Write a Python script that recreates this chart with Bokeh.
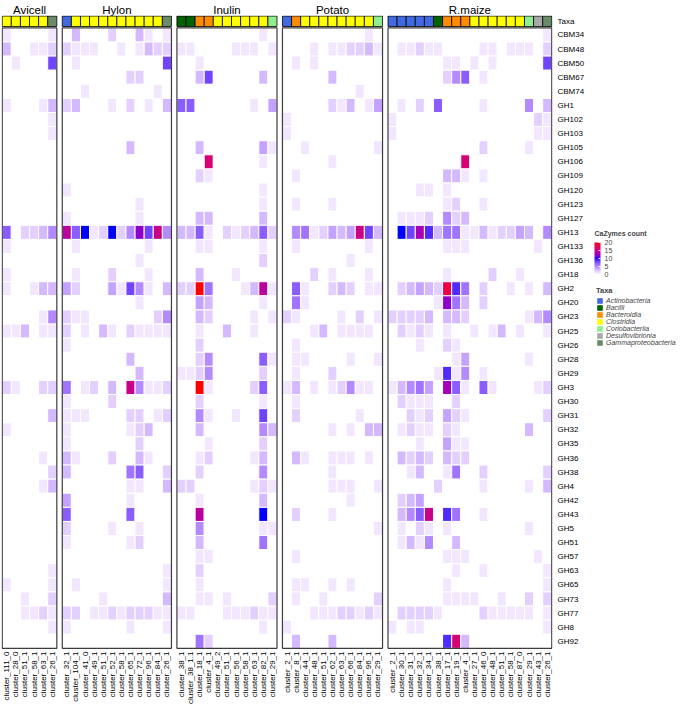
import math
import numpy as np
from bokeh.plotting import figure
from bokeh.layouts import row
from bokeh.models import (Range1d, ColumnDataSource, LinearColorMapper, ColorBar, LinearAxis,
                          FixedTicker, Legend, LegendItem, Label, AllLabels)
from bokeh.transform import factor_cmap
from bokeh.embed import file_html
from bokeh.resources import INLINE

# ---------------- data ----------------
rows = ["CBM34", "CBM48", "CBM50", "CBM67", "CBM74", "GH1", "GH102", "GH103", "GH105",
        "GH106", "GH109", "GH120", "GH123", "GH127", "GH13", "GH133", "GH136", "GH18",
        "GH2", "GH20", "GH23", "GH25", "GH26", "GH28", "GH29", "GH3", "GH30", "GH31",
        "GH32", "GH35", "GH36", "GH38", "GH4", "GH42", "GH43", "GH5", "GH51", "GH57",
        "GH63", "GH65", "GH73", "GH77", "GH8", "GH92"]

panels = ["Avicell", "Hylon", "Inulin", "Potato", "R.maize"]

avicell_clusters = ["cluster_111_0", "cluster_28_0", "cluster_51_1", "cluster_58_1",
                    "cluster_63_1", "cluster_26_1"]
avicell_taxa = ["Clostridia"] * 5 + ["Gammaproteobacteria"]

hylon_clusters = ["cluster_32_1", "cluster_104_1", "cluster_41_0", "cluster_49_1",
                  "cluster_51_1", "cluster_52_1", "cluster_58_1", "cluster_65_1",
                  "cluster_72_1", "cluster_96_1", "cluster_84_1", "cluster_26_1"]
hylon_taxa = ["Actinobacteria"] + ["Clostridia"] * 10 + ["Gammaproteobacteria"]

inulin_clusters = ["cluster_38_1", "cluster_38_1.1", "cluster_18_1", "cluster_4_1",
                   "cluster_49_2", "cluster_51_1", "cluster_56_1", "cluster_58_1",
                   "cluster_63_1", "cluster_82_1", "cluster_29_1"]
inulin_taxa = ["Bacilli"] * 2 + ["Bacteroidia"] * 2 + ["Clostridia"] * 6 + ["Coriobacteriia"]

potato_clusters = ["cluster_2_1", "cluster_8_1", "cluster_44_1", "cluster_48_1",
                   "cluster_51_1", "cluster_62_1", "cluster_63_1", "cluster_66_1",
                   "cluster_84_1", "cluster_96_1", "cluster_29_1"]
potato_taxa = ["Actinobacteria", "Bacteroidia"] + ["Clostridia"] * 8 + ["Coriobacteriia"]

rmaize_clusters = ["cluster_2_1", "cluster_30_1", "cluster_31_1", "cluster_32_1",
                   "cluster_34_1", "cluster_38_1", "cluster_17_1", "cluster_19_1",
                   "cluster_4_1", "cluster_27_1", "cluster_46_0", "cluster_48_1",
                   "cluster_51_1", "cluster_58_1", "cluster_87_0", "cluster_29_1",
                   "cluster_43_1", "cluster_26_1"]
rmaize_taxa = (["Actinobacteria"] * 5 + ["Bacilli"] + ["Bacteroidia"] * 3 + ["Clostridia"] * 6
               + ["Coriobacteriia", "Desulfovibrionia", "Gammaproteobacteria"])

taxa_order = ["Actinobacteria", "Bacilli", "Bacteroidia", "Clostridia", "Coriobacteriia",
              "Desulfovibrionia", "Gammaproteobacteria"]

# CaZyme counts, one list per row (order of `rows`), one value per cluster
avicell_counts = [
    [1, 0, 0, 0, 0, 1], [3, 0, 0, 1, 1, 2], [0, 1, 0, 0, 0, 8], [0, 0, 0, 0, 0, 0],
    [0, 0, 0, 0, 0, 0], [1, 0, 0, 0, 1, 3], [0, 0, 0, 0, 0, 1], [0, 0, 0, 0, 0, 1],
    [0, 0, 0, 0, 0, 0], [0, 0, 0, 0, 0, 0], [0, 0, 0, 0, 0, 0], [0, 0, 0, 0, 0, 0],
    [0, 0, 0, 0, 0, 0], [0, 0, 0, 0, 0, 0], [7, 0, 2, 2, 3, 5], [1, 0, 0, 0, 0, 0],
    [0, 0, 0, 0, 0, 0], [1, 0, 0, 0, 0, 0], [1, 0, 0, 1, 3, 3], [0, 0, 0, 0, 0, 0],
    [0, 0, 0, 0, 1, 5], [1, 1, 3, 0, 1, 1], [0, 0, 0, 0, 0, 0], [0, 0, 0, 0, 0, 0],
    [0, 0, 0, 0, 0, 0], [2, 1, 0, 0, 2, 2], [0, 0, 0, 0, 0, 0], [0, 0, 0, 0, 0, 3],
    [1, 0, 0, 0, 0, 0], [0, 0, 0, 0, 0, 0], [0, 0, 0, 0, 1, 0], [0, 0, 0, 0, 0, 2],
    [0, 0, 0, 0, 1, 3], [0, 0, 0, 0, 0, 0], [0, 0, 0, 0, 0, 0], [0, 0, 0, 0, 0, 0],
    [0, 0, 0, 0, 0, 0], [0, 0, 0, 0, 0, 0], [0, 0, 0, 0, 0, 1], [1, 0, 0, 0, 0, 1],
    [0, 0, 1, 0, 0, 2], [0, 0, 1, 1, 2, 1], [0, 0, 0, 0, 0, 1], [0, 0, 0, 0, 0, 0],
]

hylon_counts = [
    [0, 3, 0, 0, 0, 2, 0, 0, 3, 1, 0, 1],
    [2, 1, 1, 1, 0, 0, 1, 0, 1, 3, 2, 2],
    [0, 1, 0, 0, 0, 0, 0, 0, 0, 0, 0, 8],
    [0, 0, 0, 0, 0, 0, 0, 2, 2, 0, 0, 0],
    [0, 0, 1, 0, 0, 0, 0, 0, 0, 0, 1, 0],
    [2, 3, 0, 0, 0, 1, 0, 2, 0, 1, 0, 3],
    [0, 0, 0, 0, 0, 0, 0, 0, 0, 0, 0, 0],
    [0, 0, 0, 0, 0, 0, 0, 0, 0, 0, 0, 0],
    [0, 0, 0, 0, 0, 0, 0, 3, 0, 0, 0, 0],
    [0, 0, 0, 0, 0, 0, 0, 0, 0, 0, 0, 0],
    [0, 0, 0, 0, 0, 0, 0, 0, 0, 0, 0, 0],
    [1, 0, 0, 0, 0, 0, 0, 0, 0, 0, 0, 0],
    [0, 0, 0, 0, 0, 0, 0, 0, 1, 0, 0, 0],
    [1, 0, 0, 0, 0, 0, 0, 0, 1, 0, 0, 0],
    [14, 7, 10, 1, 2, 10, 2, 5, 12, 8, 15, 5],
    [0, 1, 0, 0, 0, 0, 0, 0, 0, 1, 0, 0],
    [0, 0, 0, 0, 0, 0, 0, 0, 1, 0, 0, 0],
    [0, 1, 0, 0, 0, 2, 0, 0, 0, 1, 0, 0],
    [4, 2, 0, 0, 0, 4, 1, 8, 5, 1, 0, 3],
    [0, 0, 0, 0, 0, 0, 0, 0, 1, 0, 0, 0],
    [2, 1, 1, 0, 0, 0, 0, 0, 0, 0, 2, 5],
    [2, 0, 1, 0, 3, 1, 0, 2, 1, 1, 1, 1],
    [1, 0, 0, 0, 0, 0, 0, 0, 0, 0, 0, 0],
    [0, 0, 0, 0, 0, 0, 0, 3, 0, 0, 0, 0],
    [0, 0, 0, 0, 0, 0, 0, 0, 3, 0, 0, 0],
    [6, 0, 1, 2, 0, 3, 0, 15, 5, 1, 1, 2],
    [1, 0, 0, 0, 0, 2, 0, 0, 0, 0, 0, 0],
    [1, 1, 1, 0, 0, 0, 0, 2, 2, 0, 1, 2],
    [1, 0, 0, 0, 0, 0, 0, 1, 2, 3, 0, 0],
    [1, 0, 0, 0, 0, 0, 0, 0, 2, 0, 0, 0],
    [3, 1, 0, 0, 0, 2, 0, 0, 3, 1, 0, 0],
    [3, 0, 0, 0, 0, 0, 0, 6, 7, 0, 0, 2],
    [0, 0, 0, 0, 0, 0, 0, 1, 1, 0, 0, 3],
    [4, 0, 0, 0, 0, 0, 0, 1, 0, 0, 0, 0],
    [7, 0, 0, 0, 0, 0, 0, 7, 0, 0, 0, 0],
    [2, 0, 0, 0, 0, 1, 0, 0, 1, 0, 0, 0],
    [1, 0, 0, 0, 0, 0, 0, 1, 2, 0, 0, 0],
    [0, 0, 0, 0, 0, 0, 0, 0, 0, 0, 0, 0],
    [0, 0, 0, 0, 0, 0, 0, 0, 0, 0, 0, 1],
    [0, 1, 0, 0, 0, 0, 0, 0, 0, 0, 0, 1],
    [0, 0, 0, 0, 1, 0, 0, 0, 0, 0, 0, 3],
    [2, 2, 0, 1, 1, 2, 1, 2, 2, 2, 1, 1],
    [1, 0, 0, 0, 0, 0, 0, 1, 0, 0, 0, 1],
    [0, 0, 0, 0, 0, 0, 0, 0, 0, 0, 0, 0],
]

inulin_counts = [
    [0, 0, 0, 0, 0, 0, 0, 0, 0, 1, 0],
    [1, 1, 0, 0, 0, 0, 1, 1, 1, 0, 1],
    [0, 0, 1, 0, 0, 0, 0, 0, 0, 0, 0],
    [0, 0, 3, 8, 0, 0, 0, 0, 0, 3, 0],
    [0, 0, 0, 0, 0, 0, 0, 0, 0, 0, 0],
    [7, 7, 0, 0, 0, 0, 0, 0, 1, 0, 4],
    [0, 0, 0, 0, 0, 0, 0, 0, 0, 0, 0],
    [0, 0, 0, 0, 0, 0, 0, 0, 0, 0, 0],
    [0, 0, 3, 0, 0, 0, 0, 0, 0, 4, 1],
    [0, 0, 0, 16, 0, 0, 0, 0, 0, 1, 0],
    [0, 0, 2, 1, 0, 0, 0, 0, 0, 0, 0],
    [0, 0, 0, 0, 0, 0, 0, 0, 0, 1, 0],
    [0, 0, 0, 0, 0, 0, 0, 0, 0, 1, 0],
    [0, 0, 3, 3, 0, 0, 0, 0, 0, 3, 0],
    [3, 3, 7, 1, 0, 2, 1, 2, 3, 7, 2],
    [0, 0, 1, 1, 0, 0, 0, 0, 0, 1, 0],
    [0, 0, 0, 0, 0, 0, 0, 0, 0, 2, 0],
    [0, 0, 3, 0, 0, 0, 1, 0, 0, 0, 0],
    [2, 2, 20, 6, 0, 0, 0, 1, 3, 14, 1],
    [0, 0, 4, 3, 0, 0, 0, 0, 0, 1, 0],
    [0, 0, 3, 2, 0, 0, 0, 0, 1, 0, 1],
    [0, 0, 1, 0, 0, 3, 0, 0, 1, 0, 0],
    [0, 0, 2, 0, 0, 0, 0, 0, 0, 0, 0],
    [0, 0, 2, 5, 0, 0, 0, 0, 0, 7, 1],
    [1, 1, 2, 5, 0, 0, 0, 0, 0, 2, 0],
    [0, 0, 20, 1, 0, 0, 0, 0, 2, 7, 0],
    [0, 0, 2, 0, 0, 0, 0, 0, 0, 1, 0],
    [0, 0, 5, 1, 0, 0, 1, 0, 0, 8, 0],
    [0, 0, 3, 0, 0, 0, 0, 0, 0, 5, 3],
    [0, 0, 0, 1, 0, 0, 0, 0, 0, 2, 0],
    [0, 0, 1, 2, 0, 0, 0, 0, 1, 3, 0],
    [0, 0, 2, 0, 0, 0, 0, 0, 0, 5, 0],
    [2, 2, 0, 0, 0, 0, 0, 0, 1, 2, 1],
    [0, 0, 1, 0, 0, 0, 0, 0, 0, 3, 0],
    [0, 0, 14, 0, 0, 0, 0, 0, 0, 10, 0],
    [0, 0, 5, 0, 0, 0, 0, 0, 0, 1, 1],
    [0, 0, 3, 0, 0, 0, 0, 0, 0, 6, 0],
    [0, 0, 1, 1, 0, 0, 0, 0, 0, 0, 0],
    [0, 0, 2, 0, 0, 0, 0, 0, 0, 0, 0],
    [0, 0, 1, 0, 0, 0, 0, 0, 0, 0, 0],
    [0, 0, 1, 1, 0, 1, 0, 0, 0, 0, 2],
    [1, 1, 0, 0, 0, 1, 1, 1, 2, 1, 1],
    [0, 0, 0, 0, 0, 0, 0, 0, 0, 1, 0],
    [0, 0, 6, 2, 0, 0, 0, 0, 0, 0, 0],
]

potato_counts = [
    [0, 0, 0, 0, 0, 0, 0, 0, 0, 1, 0],
    [0, 0, 0, 1, 0, 1, 1, 2, 2, 3, 1],
    [0, 1, 0, 1, 0, 0, 0, 0, 0, 0, 0],
    [0, 0, 0, 0, 0, 3, 0, 0, 0, 0, 0],
    [0, 0, 0, 0, 0, 0, 0, 0, 1, 0, 0],
    [0, 0, 0, 0, 0, 2, 1, 3, 0, 1, 4],
    [1, 0, 0, 0, 0, 0, 0, 0, 0, 0, 0],
    [1, 0, 0, 0, 0, 0, 0, 0, 0, 0, 0],
    [0, 0, 1, 0, 0, 0, 0, 0, 0, 0, 1],
    [0, 0, 0, 0, 0, 1, 0, 0, 0, 0, 0],
    [0, 1, 0, 0, 0, 0, 0, 0, 0, 0, 0],
    [0, 0, 0, 0, 0, 0, 0, 0, 0, 0, 0],
    [0, 1, 0, 0, 0, 1, 0, 0, 0, 0, 0],
    [0, 0, 0, 0, 0, 0, 0, 0, 0, 0, 0],
    [0, 5, 6, 1, 2, 4, 3, 4, 15, 8, 3],
    [0, 1, 0, 0, 0, 0, 0, 0, 0, 1, 0],
    [0, 0, 0, 0, 0, 0, 0, 1, 0, 0, 0],
    [0, 0, 0, 2, 0, 1, 0, 0, 0, 1, 0],
    [0, 7, 1, 0, 0, 2, 3, 2, 0, 1, 1],
    [0, 6, 1, 0, 0, 0, 0, 0, 0, 0, 0],
    [2, 1, 0, 0, 0, 0, 1, 0, 2, 0, 1],
    [0, 0, 0, 1, 3, 0, 1, 1, 1, 1, 0],
    [0, 1, 0, 0, 0, 0, 0, 0, 0, 0, 0],
    [0, 1, 1, 0, 0, 0, 0, 1, 0, 0, 1],
    [0, 1, 0, 0, 0, 2, 0, 0, 0, 0, 0],
    [1, 3, 0, 1, 0, 1, 2, 5, 1, 1, 0],
    [0, 1, 0, 0, 0, 0, 0, 0, 0, 0, 0],
    [0, 2, 0, 0, 0, 0, 0, 0, 1, 0, 0],
    [0, 0, 0, 0, 0, 1, 0, 1, 0, 3, 3],
    [0, 0, 0, 0, 0, 0, 0, 0, 0, 0, 0],
    [0, 3, 1, 0, 0, 1, 1, 1, 0, 1, 0],
    [0, 0, 0, 0, 0, 1, 0, 0, 0, 0, 0],
    [0, 0, 0, 0, 0, 1, 1, 1, 0, 0, 1],
    [0, 0, 0, 0, 0, 0, 0, 1, 0, 0, 0],
    [0, 2, 0, 0, 0, 1, 0, 0, 0, 0, 0],
    [0, 0, 0, 0, 0, 0, 0, 0, 0, 0, 1],
    [0, 0, 0, 0, 0, 0, 0, 0, 0, 0, 0],
    [0, 1, 0, 0, 0, 0, 0, 0, 0, 0, 0],
    [0, 0, 0, 0, 0, 0, 0, 0, 0, 0, 0],
    [0, 1, 1, 0, 0, 1, 0, 1, 0, 0, 0],
    [0, 1, 0, 0, 1, 0, 0, 0, 0, 0, 2],
    [0, 0, 0, 1, 1, 1, 2, 2, 1, 2, 1],
    [1, 0, 0, 0, 0, 0, 0, 0, 0, 0, 0],
    [0, 3, 0, 0, 0, 3, 0, 0, 0, 0, 0],
]

rmaize_counts = [
    [0, 0, 0, 0, 0, 0, 0, 0, 0, 0, 0, 0, 0, 0, 0, 0, 0, 1],
    [0, 1, 1, 2, 1, 1, 0, 0, 0, 0, 1, 1, 0, 1, 1, 1, 0, 2],
    [0, 0, 0, 0, 0, 0, 1, 1, 0, 1, 0, 1, 0, 0, 0, 0, 0, 8],
    [0, 0, 0, 0, 0, 0, 2, 5, 7, 0, 1, 0, 0, 0, 0, 0, 0, 0],
    [0, 0, 0, 0, 0, 0, 0, 0, 0, 0, 0, 0, 0, 0, 0, 0, 0, 0],
    [0, 1, 0, 2, 0, 7, 0, 0, 0, 0, 1, 0, 0, 0, 0, 5, 0, 3],
    [1, 0, 0, 0, 0, 0, 0, 0, 0, 0, 0, 0, 0, 0, 0, 0, 2, 1],
    [1, 0, 0, 0, 0, 0, 0, 0, 0, 0, 0, 0, 0, 0, 0, 0, 1, 1],
    [0, 0, 0, 0, 0, 0, 0, 0, 0, 0, 2, 0, 0, 0, 0, 1, 0, 0],
    [0, 0, 0, 0, 0, 0, 0, 0, 16, 0, 0, 0, 0, 0, 0, 0, 0, 0],
    [0, 0, 0, 0, 0, 0, 3, 3, 1, 0, 1, 0, 0, 0, 0, 0, 0, 0],
    [0, 0, 0, 1, 1, 0, 1, 0, 0, 0, 0, 0, 0, 0, 0, 0, 0, 0],
    [0, 0, 0, 0, 0, 0, 1, 2, 0, 0, 1, 0, 0, 0, 0, 0, 0, 0],
    [0, 1, 1, 1, 2, 0, 5, 2, 3, 0, 0, 0, 0, 0, 0, 0, 0, 0],
    [0, 10, 8, 13, 9, 3, 6, 6, 1, 1, 3, 1, 2, 2, 4, 3, 0, 5],
    [0, 0, 0, 0, 0, 0, 1, 1, 1, 0, 0, 0, 0, 0, 0, 0, 1, 0],
    [0, 0, 0, 0, 0, 0, 0, 0, 0, 0, 0, 0, 0, 0, 0, 0, 0, 0],
    [0, 0, 0, 0, 0, 0, 1, 0, 0, 0, 0, 2, 0, 0, 1, 0, 0, 0],
    [0, 2, 3, 4, 3, 2, 18, 9, 6, 0, 2, 0, 0, 1, 0, 1, 0, 3],
    [0, 0, 0, 0, 0, 1, 12, 6, 3, 0, 2, 0, 0, 0, 0, 0, 0, 0],
    [2, 2, 2, 2, 3, 0, 3, 3, 2, 0, 0, 0, 0, 0, 0, 1, 3, 5],
    [0, 2, 1, 2, 1, 0, 1, 0, 0, 1, 0, 1, 3, 0, 1, 0, 0, 1],
    [0, 0, 0, 1, 0, 0, 2, 1, 0, 0, 0, 0, 0, 0, 0, 0, 0, 0],
    [0, 0, 0, 0, 0, 0, 0, 1, 4, 0, 0, 0, 0, 0, 0, 1, 0, 0],
    [0, 0, 0, 0, 0, 1, 9, 1, 5, 0, 1, 0, 0, 0, 0, 0, 0, 0],
    [1, 3, 5, 6, 4, 0, 13, 7, 1, 0, 7, 1, 0, 0, 0, 0, 1, 2],
    [0, 2, 1, 1, 1, 0, 0, 2, 0, 0, 0, 0, 0, 0, 0, 0, 0, 0],
    [0, 0, 2, 1, 2, 0, 4, 2, 1, 0, 0, 0, 0, 0, 0, 0, 0, 2],
    [0, 1, 2, 1, 1, 0, 2, 1, 0, 0, 0, 0, 0, 0, 0, 3, 0, 0],
    [0, 0, 0, 1, 0, 0, 4, 1, 1, 0, 0, 0, 0, 0, 0, 0, 0, 0],
    [0, 3, 2, 3, 2, 0, 3, 2, 2, 0, 0, 0, 0, 0, 0, 0, 0, 0],
    [0, 0, 1, 3, 0, 0, 1, 6, 0, 0, 2, 0, 0, 0, 0, 0, 0, 2],
    [0, 0, 0, 0, 0, 2, 0, 0, 0, 0, 1, 0, 0, 0, 0, 1, 0, 3],
    [0, 2, 3, 4, 0, 0, 0, 0, 0, 0, 0, 0, 0, 0, 0, 0, 0, 0],
    [0, 3, 5, 7, 15, 0, 9, 6, 0, 0, 1, 0, 0, 0, 0, 0, 0, 0],
    [0, 1, 0, 2, 1, 0, 1, 0, 0, 0, 0, 0, 0, 0, 0, 1, 0, 0],
    [0, 1, 3, 1, 5, 0, 0, 3, 0, 0, 0, 0, 0, 0, 0, 0, 0, 0],
    [0, 0, 0, 0, 0, 0, 1, 1, 1, 0, 0, 0, 0, 0, 0, 0, 1, 0],
    [0, 0, 0, 0, 0, 0, 0, 1, 0, 0, 1, 0, 0, 0, 0, 0, 0, 1],
    [0, 0, 0, 0, 0, 0, 1, 0, 0, 0, 0, 0, 0, 0, 0, 0, 0, 1],
    [0, 0, 0, 0, 0, 0, 1, 1, 1, 1, 0, 0, 1, 0, 0, 2, 0, 2],
    [0, 2, 2, 2, 2, 1, 0, 0, 0, 0, 2, 1, 1, 1, 1, 1, 0, 1],
    [1, 0, 1, 1, 0, 0, 0, 0, 0, 0, 0, 0, 0, 0, 0, 0, 0, 1],
    [0, 0, 0, 0, 0, 0, 9, 16, 3, 0, 0, 0, 0, 0, 0, 0, 0, 0],
]

# ---------------- styling ----------------
FONT = "Liberation Sans"
taxa_palette = ["#4169E1", "#006400", "#FF8C00", "#FFFF00", "#90EE90", "#A9A9A9", "#698B69"]
GAP = 0.6            # space between the panels, in cell widths
TAXA_H = 0.74        # height of the annotation bar, in cell heights
TAXA_GAP = 0.1
W_MAIN, W_SIDE, H = 592, 92, 706

_M = np.array([[0.4124564, 0.3575761, 0.1804375],
               [0.2126729, 0.7151522, 0.0721750],
               [0.0193339, 0.1191920, 0.9503041]])
_WP = np.array([0.95047, 1.0, 1.08883])


def hex_to_lab(h):
    c = np.array([int(h[i:i + 2], 16) for i in (1, 3, 5)], float) / 255
    lin = np.where(c <= 0.04045, c / 12.92, ((c + 0.055) / 1.055) ** 2.4)
    xyz = _M @ lin / _WP
    d = 6 / 29
    f = np.where(xyz > d ** 3, np.cbrt(xyz), xyz / (3 * d * d) + 4 / 29)
    return np.array([116 * f[1] - 16, 500 * (f[0] - f[1]), 200 * (f[1] - f[2])])


def lab_to_hex(lab):
    L, a, b = lab
    fy = (L + 16) / 116
    f = np.array([fy + a / 500, fy, fy - b / 200])
    d = 6 / 29
    xyz = np.where(f > d, f ** 3, 3 * d * d * (f - 4 / 29)) * _WP
    lin = np.clip(np.linalg.solve(_M, xyz), 0, 1)
    c = np.where(lin <= 0.0031308, 12.92 * lin, 1.055 * lin ** (1 / 2.4) - 0.055)
    c = np.clip(c, 0, 1)
    return "#%02x%02x%02x" % tuple(int(round(v * 255)) for v in c)


anchors = [hex_to_lab("#FFFFFF"), hex_to_lab("#0000FF"), hex_to_lab("#FF0000")]
palette = []
N = 201
for k in range(N):
    t = k / (N - 1) * 2
    i = min(int(t), 1)
    u = t - i
    palette.append(lab_to_hex(anchors[i] * (1 - u) + anchors[i + 1] * u))

mapper = LinearColorMapper(palette=palette, low=0, high=20)

# ---------------- sources ----------------
panel_clusters = dict(zip(panels, [avicell_clusters, hylon_clusters, inulin_clusters,
                                   potato_clusters, rmaize_clusters]))
panel_taxa = dict(zip(panels, [avicell_taxa, hylon_taxa, inulin_taxa, potato_taxa, rmaize_taxa]))
panel_counts = dict(zip(panels, [avicell_counts, hylon_counts, inulin_counts,
                                 potato_counts, rmaize_counts]))

n_rows = len(rows)
row_y = [n_rows - i - 0.5 for i in range(n_rows)]

cx, cy, cv = [], [], []
tx, tt = [], []
bl, br = [], []
col_ticks, col_labels = [], []
panel_mid = []
start = 0.0
for pn in panels:
    cl = panel_clusters[pn]
    for j, c in enumerate(cl):
        xpos = round(start + j + 0.5, 6)
        col_ticks.append(xpos)
        col_labels.append(c)
        tx.append(xpos)
        tt.append(panel_taxa[pn][j])
        for i in range(n_rows):
            cx.append(xpos)
            cy.append(row_y[i])
            cv.append(panel_counts[pn][i][j])
    bl.append(start)
    br.append(start + len(cl))
    panel_mid.append(round(start + len(cl) / 2, 6))
    start += len(cl) + GAP
x_end = start - GAP

cells = ColumnDataSource(dict(x=cx, y=cy, count=cv))
taxa_y = round(n_rows + TAXA_GAP + TAXA_H / 2, 6)
taxa_src = ColumnDataSource(dict(x=tx, y=[taxa_y] * len(tx), taxon=tt))
borders = ColumnDataSource(dict(left=bl, right=br, top=[n_rows] * len(bl), bottom=[0] * len(bl)))

# ---------------- heatmap figure ----------------
p = figure(x_range=Range1d(-0.08, x_end + 0.08),
           y_range=Range1d(-0.08, n_rows + TAXA_GAP + TAXA_H + 0.04),
           width=W_MAIN, height=H, output_backend="svg", toolbar_location=None,
           y_axis_location="right", min_border_left=1, min_border_right=40,
           min_border_top=0, min_border_bottom=0)
p.outline_line_color = None
p.grid.visible = False
p.background_fill_color = "white"
p.border_fill_color = "white"

p.rect(x="x", y="y", width=1, height=1, source=cells,
       fill_color={"field": "count", "transform": mapper},
       line_color="white", line_width=1)

taxa_colors = factor_cmap("taxon", palette=taxa_palette, factors=taxa_order)
p.rect(x="x", y="y", width=1, height=TAXA_H, source=taxa_src, fill_color=taxa_colors,
       line_color="black", line_width=0.8)

p.quad(left="left", right="right", top="top", bottom="bottom", source=borders,
       fill_color=None, line_color="#3c3c3c", line_width=1.2)


def plain_axis(ax):
    ax.axis_line_color = None
    ax.major_tick_line_color = None
    ax.minor_tick_line_color = None
    ax.major_tick_out = 0
    ax.major_tick_in = 0
    ax.major_label_text_font = FONT
    ax.major_label_text_color = "black"
    ax.major_label_policy = AllLabels()


# bottom axis: cluster names
xb = p.xaxis[0]
xb.ticker = FixedTicker(ticks=col_ticks)
xb.major_label_overrides = dict(zip(col_ticks, col_labels))
xb.major_label_orientation = math.pi / 2
xb.major_label_text_font_size = "8px"
xb.major_label_standoff = 2
plain_axis(xb)

# top axis: panel names
xa = LinearAxis(ticker=FixedTicker(ticks=panel_mid),
                major_label_overrides=dict(zip(panel_mid, panels)))
xa.major_label_text_font_size = "11.5px"
xa.major_label_standoff = 0
plain_axis(xa)
p.add_layout(xa, "above")

# right axis: CaZyme families and the annotation name
ya = p.yaxis[0]
ya.ticker = FixedTicker(ticks=row_y + [taxa_y])
ya.major_label_overrides = dict(zip(row_y + [taxa_y], rows + ["Taxa"]))
ya.major_label_text_font_size = "8px"
ya.major_label_standoff = 5
plain_axis(ya)

# ---------------- legend figure (frame aligned with the heatmap frame) ----------------
q = figure(width=W_SIDE, height=H, x_range=Range1d(0, 1), y_range=Range1d(0, 1),
           output_backend="svg", toolbar_location=None, x_axis_location=None,
           y_axis_location=None, min_border=0)
q.outline_line_color = None
q.grid.visible = False
q.background_fill_color = "white"
q.border_fill_color = "white"

legend_r = q.rect(x="x", y="y", width=1, height=TAXA_H, source=taxa_src,
                  fill_color=taxa_colors, line_color=None, visible=False)

cb = ColorBar(color_mapper=mapper, ticker=FixedTicker(ticks=[0, 5, 10, 15, 20]),
              width=6, height=32, major_label_text_font_size="7px",
              major_label_text_font=FONT, major_label_policy=AllLabels(),
              label_standoff=4, padding=0, margin=0, border_line_color=None,
              background_fill_alpha=0, major_tick_line_color="white", major_tick_in=2,
              major_tick_out=0, bar_line_color=None, location=(2, 375))
q.add_layout(cb)
q.add_layout(Label(x=2, y=416, x_units="screen", y_units="screen", text="CaZymes count",
                   text_font=FONT, text_font_size="7px", text_font_style="bold",
                   text_baseline="middle"))

first_idx = {t: tt.index(t) for t in taxa_order}
legend = Legend(items=[LegendItem(label=t, renderers=[legend_r], index=first_idx[t])
                       for t in taxa_order],
                location=(4, 303), title="Taxa", title_text_font_size="7.5px",
                title_text_font_style="bold", title_text_font=FONT, title_standoff=2,
                label_text_font_size="7px", label_text_font_style="italic",
                label_text_font=FONT, glyph_width=7, glyph_height=7, label_height=7,
                label_standoff=3, spacing=0, padding=0, margin=0,
                inactive_fill_alpha=0, border_line_color=None, background_fill_alpha=0)
q.add_layout(legend)

open("out.html", "w").write(file_html(row(p, q), INLINE))
